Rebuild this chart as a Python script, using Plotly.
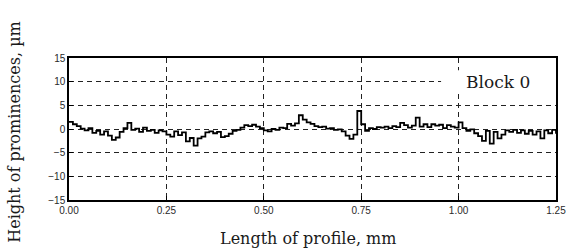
import plotly.graph_objects as go

length_mm = [round(i * 0.01, 2) for i in range(126)]
height_um = [
    1.5, 1.0, 0.6, 0.1, -0.3, 0.2, -0.8, -0.4, -1.2, -0.5,
    -1.4, -2.3, -1.8, -0.6, 0.2, 1.3, -0.2, 0.1, -0.6, 0.3,
    -0.4, -0.2, -0.8, -0.3, -0.5, -1.2, -1.6, -0.5, -1.3, -0.7,
    -2.6, -1.9, -3.5, -2.0, -1.6, -0.7, -0.5, -0.9, -0.6, -1.7,
    -1.5, -1.0, -0.4, -0.2, 0.3, 0.8, 0.6, 0.9, 0.5, 0.2,
    -0.3, -0.5, 0.0, -0.2, 0.3, 0.2, 1.1, 0.7, 1.2, 2.9,
    2.0, 1.4, 1.1, 0.6, 0.4, 0.5, 0.1, 0.2, -0.2, -0.1,
    -0.5, -1.4, -2.1, -1.2, 3.8, 1.0, -0.4, 0.2, 0.0, 0.4,
    0.3, 0.5, 0.2, 0.6, 0.4, 1.3, 0.8, 0.3, 0.7, 2.4,
    0.5, 1.0, 0.4, 1.0, 0.7, 0.9, 0.2, 0.8, 0.5, 0.3,
    1.4, 0.2, -0.4, -0.1, -0.9, -1.5, -2.5, -0.4, -3.1, -0.6,
    -2.0, -1.2, -0.3, -0.6, -0.2, -0.8, -0.3, -1.0, -0.4, -1.2,
    -0.5, -2.0, -0.3, -0.9, -0.2, -1.0,
]
x_ticks = [0.0, 0.25, 0.5, 0.75, 1.0, 1.25]
x_ticklabels = ["0.00", "0.25", "0.50", "0.75", "1.00", "1.25"]
y_ticks = [-15, -10, -5, 0, 5, 10, 15]
label_text = "Block 0"
x_title = "Length of profile, mm"
y_title = "Height of prominences, µm"

fig = go.Figure()
fig.add_trace(go.Scatter(x=length_mm, y=height_um, mode="lines",
                         line=dict(color="black", width=1.8, shape="hv"), showlegend=False))

tickfont = dict(family="Liberation Sans", size=10, color="#2a2a2a")
titlefont = dict(family="DejaVu Serif", size=16, color="#1a1a1a")
fig.update_layout(
    width=567, height=251,
    margin=dict(l=69, r=11, t=58, b=51, autoexpand=False),
    paper_bgcolor="white", plot_bgcolor="white",
    xaxis=dict(range=[0, 1.25], tickvals=x_ticks, ticktext=x_ticklabels,
               ticks="inside", ticklen=4, tickcolor="black",
               showgrid=True, gridcolor="#222222", griddash="5px,4px", gridwidth=1,
               zeroline=False, showline=True, linecolor="black", linewidth=1.5,
               mirror=True, tickfont=tickfont),
    yaxis=dict(range=[-15, 15], tickvals=y_ticks,
               ticks="inside", ticklen=4, tickcolor="black",
               showgrid=True, gridcolor="#222222", griddash="5px,4px", gridwidth=1,
               zeroline=False, showline=True, linecolor="black", linewidth=1.5,
               mirror=True, tickfont=tickfont),
)

fig.add_shape(type="rect", xref="x", yref="y", x0=0.955, x1=1.25, y0=7.6, y1=12.4,
              fillcolor="white", line=dict(width=0), layer="between")
fig.add_annotation(text=label_text, xref="x", yref="y", x=1.1, y=10,
                   showarrow=False, font=dict(family="DejaVu Serif", size=17, color="#1a1a1a"))
fig.add_annotation(text=x_title, xref="paper", yref="paper", x=0.491, y=-0.268,
                   xanchor="center", yanchor="middle", showarrow=False, font=titlefont)
fig.add_annotation(text=y_title, xref="paper", yref="paper", x=-0.111, y=0.48,
                   xanchor="center", yanchor="middle", textangle=-90, showarrow=False,
                   font=titlefont)

fig.write_html("out.html", config={"displayModeBar": False},
               post_script="document.body.style.margin='0';")
